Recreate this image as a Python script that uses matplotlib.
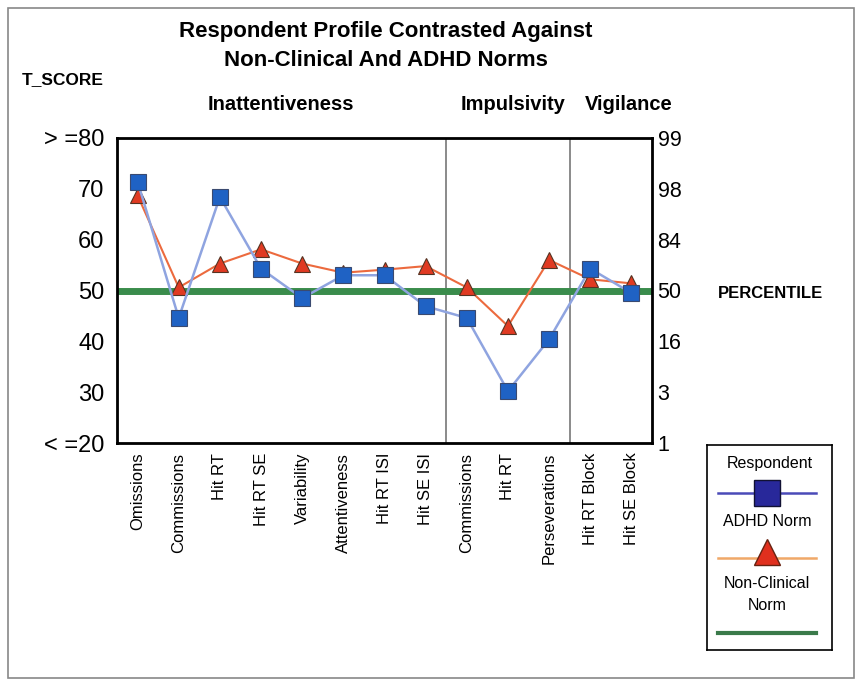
import matplotlib

matplotlib.use("Agg")
import matplotlib.pyplot as plt
from matplotlib.patches import Rectangle

plt.rcParams["font.family"] = ["Liberation Sans", "DejaVu Sans"]

CATEGORIES = ["Omissions", "Commissions", "Hit RT", "Hit RT SE", "Variability",
              "Attentiveness", "Hit RT ISI", "Hit SE ISI", "Commissions",
              "Hit RT", "Perseverations", "Hit RT Block", "Hit SE Block"]
RESPONDENT = [71.4, 44.6, 68.4, 54.3, 48.5, 53.0, 53.0, 46.9, 44.6, 30.2, 40.4, 54.3, 49.5]
NON_CLINICAL = [68.7, 50.6, 55.3, 58.1, 55.3, 53.5, 54.1, 54.8, 50.6, 43.0, 56.0, 52.2, 51.4]
ADHD_NORM = 50.0

T_TICKS = [20, 30, 40, 50, 60, 70, 80]
T_LABELS = ["< =20", "30", "40", "50", "60", "70", "> =80"]
PERCENTILES = ["1", "3", "16", "50", "84", "98", "99"]

GROUPS = ["Inattentiveness", "Impulsivity", "Vigilance"]
GROUP_BREAKS = [7.5, 10.5]

W, H = 862, 686
fig = plt.figure(figsize=(W / 100, H / 100), dpi=100)
fig.patches.append(Rectangle((8 / W, 8 / H), 846 / W, 670 / H, transform=fig.transFigure,
                             fill=False, edgecolor="#888888", linewidth=1.2))

ax = fig.add_axes([117 / W, 1 - 443 / H, 535 / W, 305 / H])
x = range(len(CATEGORIES))

for xb in GROUP_BREAKS:
    ax.axvline(xb, color="#777777", linewidth=1.2)

ax.axhline(ADHD_NORM, color="#3a8c4c", linewidth=5, zorder=2)
ax.plot(x, NON_CLINICAL, color="#ec6a3e", linewidth=1.5, marker="^", markersize=11,
        markerfacecolor="#e03a22", markeredgecolor="#553322", markeredgewidth=0.8, zorder=3)
ax.plot(x, RESPONDENT, color="#8fa4e0", linewidth=1.8, marker="s", markersize=11,
        markerfacecolor="#1f62c4", markeredgecolor="#3a4a70", markeredgewidth=0.8, zorder=4)

ax.set_xlim(-0.5, len(CATEGORIES) - 0.5)
ax.set_ylim(20, 80)
ax.set_yticks(T_TICKS, T_LABELS, fontsize=17)
ax.set_xticks(list(x), CATEGORIES, rotation=90, fontsize=12)
ax.tick_params(length=0, pad=9)
ax.tick_params(axis="x", pad=7)
for s in ax.spines.values():
    s.set_linewidth(2)

ax2 = ax.twinx()
ax2.set_ylim(20, 80)
ax2.set_yticks(T_TICKS, PERCENTILES, fontsize=15.5)
ax2.tick_params(length=0, pad=4)

fig.text(386 / W, 1 - 32 / H, "Respondent Profile Contrasted Against", ha="center", va="center",
         fontsize=16, fontweight="bold")
fig.text(386 / W, 1 - 60 / H, "Non-Clinical And ADHD Norms", ha="center", va="center",
         fontsize=16, fontweight="bold")
fig.text(22 / W, 1 - 80 / H, "T_SCORE", ha="left", va="center", fontsize=12.5, fontweight="bold")
fig.text(281 / W, 1 - 105 / H, GROUPS[0], ha="center", va="center", fontsize=14.5, fontweight="bold")
fig.text(513 / W, 1 - 105 / H, GROUPS[1], ha="center", va="center", fontsize=14.5, fontweight="bold")
fig.text(629 / W, 1 - 105 / H, GROUPS[2], ha="center", va="center", fontsize=14.5, fontweight="bold")
fig.text(718 / W, 1 - 293 / H, "PERCENTILE", ha="left", va="center", fontsize=12, fontweight="bold")

# hand-made legend box
lg = fig.add_axes([707 / W, 1 - 650 / H, 125 / W, 205 / H])
lg.set_xlim(0, 1)
lg.set_ylim(650, 445)
lg.set_xticks([])
lg.set_yticks([])
for s in lg.spines.values():
    s.set_linewidth(1.2)
lg.text(0.5, 463, "Respondent", ha="center", va="center", fontsize=11.5)
lg.plot([0.09, 0.87], [493, 493], color="#4a4ab8", linewidth=1.8)
lg.plot([0.48], [493], marker="s", markersize=19, markerfacecolor="#28289a", markeredgecolor="#111133")
lg.text(0.48, 522, "ADHD Norm", ha="center", va="center", fontsize=11.5)
lg.plot([0.09, 0.87], [558, 558], color="#f0a868", linewidth=1.8)
lg.plot([0.48], [552], marker="^", markersize=19, markerfacecolor="#e0301e", markeredgecolor="#662211")
lg.text(0.48, 584, "Non-Clinical", ha="center", va="center", fontsize=11.5)
lg.text(0.48, 605, "Norm", ha="center", va="center", fontsize=11.5)
lg.plot([0.09, 0.87], [633, 633], color="#3a7a4a", linewidth=3)

fig.savefig("out.png", dpi=100)
